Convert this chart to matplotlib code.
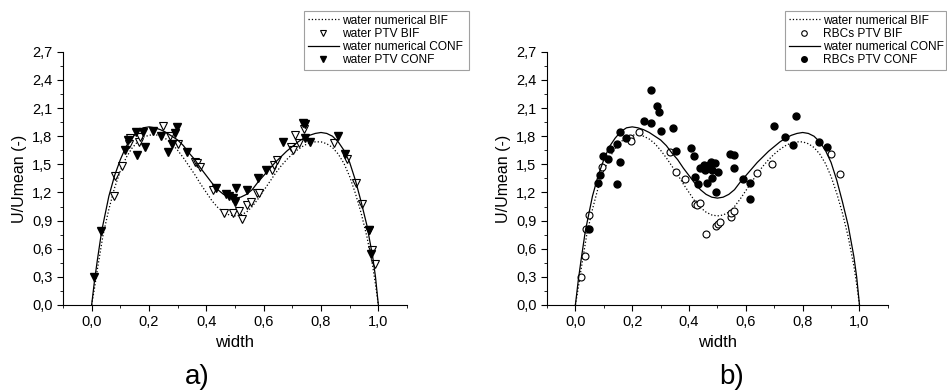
import matplotlib
matplotlib.use("Agg")
import matplotlib.pyplot as plt
from matplotlib.ticker import MultipleLocator, FuncFormatter

plt.rcParams["font.family"] = ["Liberation Sans", "DejaVu Sans"]

# ===== DATA =====
# numerical profiles
x_conf = [0.0, 0.01, 0.02, 0.035, 0.06, 0.08, 0.10, 0.12, 0.14, 0.16, 0.18, 0.20, 0.22, 0.24,
          0.26, 0.28, 0.30, 0.32, 0.34, 0.36, 0.38, 0.40, 0.42, 0.44, 0.46, 0.48, 0.50,
          0.52, 0.54, 0.56, 0.58, 0.60, 0.62, 0.64, 0.66, 0.68, 0.70, 0.72, 0.74, 0.76,
          0.78, 0.80, 0.82, 0.84, 0.86, 0.88, 0.90, 0.92, 0.94, 0.96, 0.98, 0.99, 1.0]
y_conf = [0.0, 0.26, 0.48, 0.79, 1.16, 1.38, 1.55, 1.69, 1.78, 1.85, 1.89, 1.90, 1.89, 1.87,
          1.84, 1.80, 1.76, 1.70, 1.62, 1.55, 1.46, 1.38, 1.30, 1.23, 1.18, 1.15, 1.14,
          1.15, 1.18, 1.23, 1.31, 1.38, 1.45, 1.52, 1.58, 1.64, 1.69, 1.74, 1.78, 1.81,
          1.83, 1.84, 1.83, 1.80, 1.74, 1.65, 1.52, 1.33, 1.10, 0.85, 0.52, 0.30, 0.0]

x_bif = [0.0, 0.01, 0.02, 0.04, 0.06, 0.08, 0.10, 0.12, 0.14, 0.16, 0.18, 0.20, 0.22, 0.24,
         0.26, 0.28, 0.30, 0.32, 0.34, 0.36, 0.38, 0.40, 0.42, 0.44, 0.46, 0.48, 0.50,
         0.52, 0.54, 0.56, 0.58, 0.60, 0.62, 0.64, 0.66, 0.68, 0.70, 0.72, 0.74, 0.76,
         0.78, 0.80, 0.82, 0.84, 0.86, 0.88, 0.90, 0.92, 0.94, 0.96, 0.98, 0.99, 1.0]
y_bif = [0.0, 0.18, 0.38, 0.75, 1.02, 1.25, 1.43, 1.57, 1.67, 1.74, 1.79, 1.81, 1.82, 1.80,
         1.77, 1.72, 1.65, 1.57, 1.48, 1.39, 1.29, 1.20, 1.11, 1.04, 0.99, 0.96, 0.95,
         0.96, 0.99, 1.05, 1.13, 1.22, 1.31, 1.40, 1.48, 1.55, 1.61, 1.66, 1.70, 1.73,
         1.74, 1.74, 1.72, 1.68, 1.61, 1.51, 1.37, 1.19, 0.98, 0.73, 0.42, 0.22, 0.0]

# a) water PTV
wat_bif_x = [0.077, 0.083, 0.106, 0.132, 0.134, 0.165, 0.17, 0.249, 0.272, 0.302, 0.36,
             0.366, 0.377, 0.422, 0.461, 0.494, 0.515, 0.523, 0.541, 0.555, 0.576, 0.582,
             0.629, 0.637, 0.648, 0.695, 0.702, 0.709, 0.722, 0.742, 0.845, 0.891, 0.921,
             0.944, 0.967, 0.979, 0.987]
wat_bif_y = [1.16, 1.38, 1.48, 1.72, 1.78, 1.74, 1.79, 1.91, 1.80, 1.72, 1.52,
             1.51, 1.47, 1.23, 0.98, 0.98, 1.00, 0.92, 1.07, 1.10, 1.19, 1.19,
             1.44, 1.49, 1.55, 1.69, 1.65, 1.81, 1.73, 1.88, 1.73, 1.56, 1.30,
             1.08, 0.80, 0.59, 0.44]

wat_conf_x = [0.009, 0.033, 0.118, 0.126, 0.153, 0.159, 0.179, 0.187, 0.214, 0.241, 0.266,
              0.282, 0.29, 0.299, 0.334, 0.433, 0.468, 0.48, 0.492, 0.50, 0.504, 0.541,
              0.579, 0.607, 0.667, 0.737, 0.745, 0.745, 0.763, 0.859, 0.885, 0.967, 0.975]
wat_conf_y = [0.30, 0.79, 1.65, 1.76, 1.85, 1.60, 1.85, 1.69, 1.86, 1.80, 1.63,
              1.72, 1.83, 1.90, 1.63, 1.25, 1.18, 1.16, 1.14, 1.10, 1.25, 1.23,
              1.35, 1.44, 1.74, 1.94, 1.93, 1.78, 1.74, 1.80, 1.61, 0.80, 0.54]

# b) RBCs PTV
rbc_bif_x = [0.019, 0.033, 0.036, 0.047, 0.094, 0.193, 0.197, 0.223, 0.332, 0.355, 0.387,
             0.422, 0.429, 0.437, 0.461, 0.494, 0.502, 0.51, 0.549, 0.549, 0.557, 0.64,
             0.692, 0.90, 0.933]
rbc_bif_y = [0.30, 0.52, 0.81, 0.96, 1.47, 1.78, 1.75, 1.85, 1.63, 1.42, 1.34,
             1.08, 1.07, 1.09, 0.76, 0.84, 0.86, 0.89, 0.94, 0.98, 1.00, 1.41,
             1.50, 1.61, 1.40]

rbc_conf_x = [0.047, 0.08, 0.086, 0.097, 0.115, 0.121, 0.147, 0.147, 0.156, 0.158, 0.179,
              0.24, 0.265, 0.267, 0.288, 0.294, 0.30, 0.343, 0.353, 0.408, 0.416, 0.422,
              0.43, 0.437, 0.452, 0.455, 0.463, 0.472, 0.478, 0.482, 0.482, 0.49, 0.494,
              0.502, 0.543, 0.557, 0.56, 0.59, 0.613, 0.615, 0.699, 0.739, 0.766, 0.775,
              0.856, 0.885]
rbc_conf_y = [0.81, 1.30, 1.39, 1.59, 1.56, 1.66, 1.72, 1.29, 1.84, 1.52, 1.78,
              1.96, 2.29, 1.94, 2.12, 2.06, 1.86, 1.89, 1.64, 1.67, 1.59, 1.37,
              1.29, 1.46, 1.49, 1.44, 1.30, 1.49, 1.53, 1.44, 1.35, 1.51, 1.21,
              1.42, 1.61, 1.46, 1.60, 1.34, 1.13, 1.30, 1.91, 1.79, 1.71, 2.02,
              1.74, 1.69]

comma = FuncFormatter(lambda v, p: f"{v:.1f}".replace(".", ","))


def style_axes(ax):
    ax.set_xlim(-0.1, 1.1)
    ax.set_ylim(0, 2.7)
    ax.spines["top"].set_visible(False)
    ax.spines["right"].set_visible(False)
    ax.xaxis.set_major_locator(MultipleLocator(0.2))
    ax.xaxis.set_minor_locator(MultipleLocator(0.1))
    ax.yaxis.set_major_locator(MultipleLocator(0.3))
    ax.yaxis.set_minor_locator(MultipleLocator(0.15))
    ax.xaxis.set_major_formatter(comma)
    ax.yaxis.set_major_formatter(comma)
    ax.tick_params(which="major", direction="out", length=4, labelsize=10.5)
    ax.tick_params(which="minor", direction="out", length=2)
    ax.set_xlabel("width", fontsize=12)
    ax.set_ylabel("U/Umean (-)", fontsize=11.5)


fig = plt.figure(figsize=(9.47, 3.9), dpi=100)
ax1 = fig.add_axes([0.0665, 0.218, 0.3633, 0.649])
ax2 = fig.add_axes([0.5776, 0.218, 0.360, 0.649])

# ===== PANEL a =====
ax1.plot(x_bif, y_bif, color="black", ls=":", lw=0.9, label="water numerical BIF")
ax1.plot(wat_bif_x, wat_bif_y, ls="none", marker="v", ms=5.5, mfc="white", mec="black",
         mew=0.8, label="water PTV BIF")
ax1.plot(x_conf, y_conf, color="black", ls="-", lw=0.9, label="water numerical CONF")
ax1.plot(wat_conf_x, wat_conf_y, ls="none", marker="v", ms=5.5, mfc="black", mec="black",
         label="water PTV CONF")
style_axes(ax1)

# ===== PANEL b =====
ax2.plot(x_bif, y_bif, color="black", ls=":", lw=0.9, label="water numerical BIF")
ax2.plot(rbc_bif_x, rbc_bif_y, ls="none", marker="o", ms=5, mfc="white", mec="black",
         mew=0.8, label="RBCs PTV BIF")
ax2.plot(x_conf, y_conf, color="black", ls="-", lw=0.9, label="water numerical CONF")
ax2.plot(rbc_conf_x, rbc_conf_y, ls="none", marker="o", ms=5, mfc="black", mec="black",
         label="RBCs PTV CONF")
style_axes(ax2)

# ===== LEGENDS =====
for ax, box in [(ax1, (304 / 947, 1 - 76 / 390, 165 / 947, 65 / 390)),
                (ax2, (785 / 947, 1 - 76 / 390, 161 / 947, 65 / 390))]:
    leg = fig.legend(handles=ax.get_lines(), loc="upper left", bbox_to_anchor=box,
                     mode="expand", fontsize=8.6, frameon=True, fancybox=False,
                     handlelength=2.6, handletextpad=0.3, labelspacing=0.1,
                     borderpad=0.3, borderaxespad=0, markerscale=0.8)
    leg.get_frame().set_edgecolor("#888888")
    leg.get_frame().set_linewidth(0.8)

fig.text(197 / 947, 1 - 377 / 390, "a)", fontsize=20, ha="center", va="center")
fig.text(732 / 947, 1 - 377 / 390, "b)", fontsize=20, ha="center", va="center")

plt.savefig("out.png", dpi=100)
plt.close()
